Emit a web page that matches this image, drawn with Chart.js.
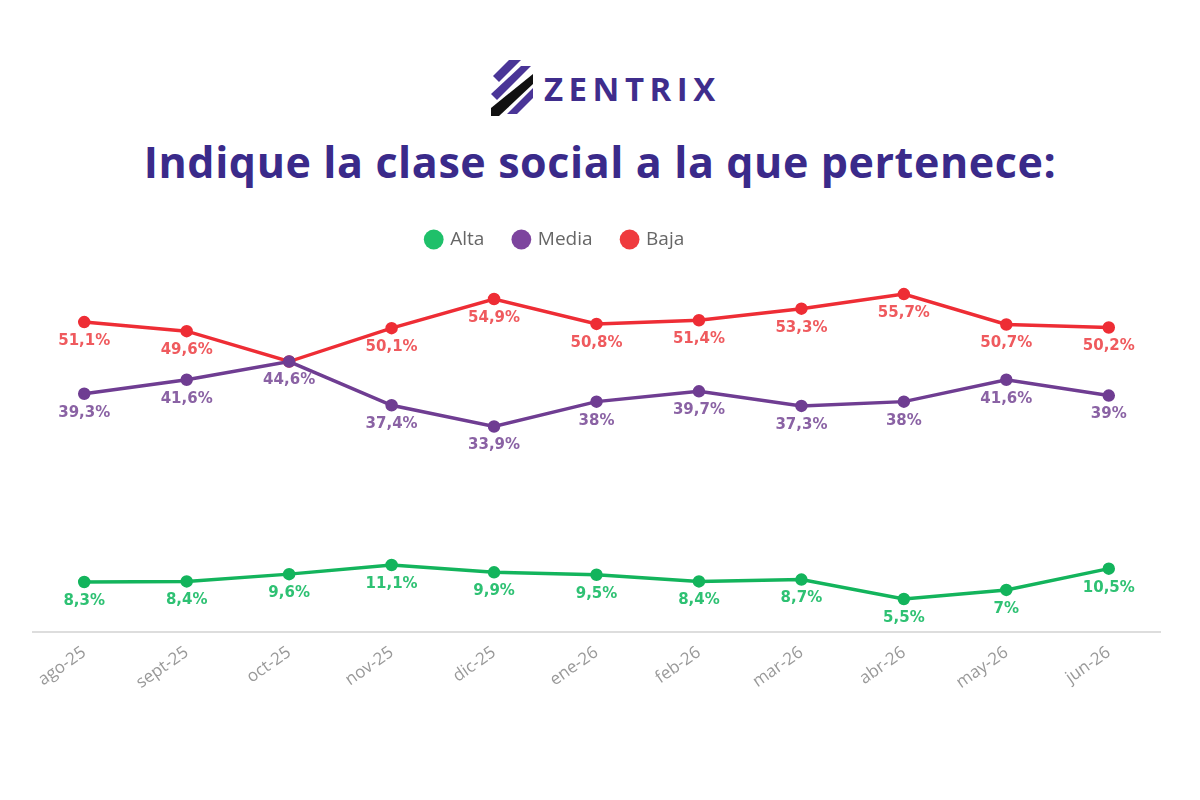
<!DOCTYPE html>
<html>
<head>
<meta charset="utf-8">
<script src="https://cdn.jsdelivr.net/npm/chart.js@4.4.1/dist/chart.umd.min.js"></script>
<style>
  html, body { margin: 0; padding: 0; background: #ffffff; }
  body { width: 1200px; height: 800px; position: relative; overflow: hidden; }
  #logo { position: absolute; left: 487px; top: 58px; height: 60px; display: flex; align-items: center; }
  #logo span { font-family: "Open Sans", sans-serif; font-weight: 700; font-size: 33px; color: #3f2d8c; letter-spacing: 5.5px; margin-left: 7px; }
  #title { position: absolute; left: 0; width: 1200px; top: 132px; text-align: center; font-family: "Open Sans", sans-serif; font-weight: 700; font-size: 43px; letter-spacing: 0.6px; color: #3a2a8a; }
  #wrap { position: absolute; left: 0; top: 0; width: 1200px; height: 800px; }
</style>
</head>
<body>
<div id="logo">
  <svg width="50" height="60" viewBox="0 0 50 60">
    <polygon points="22,2 34,2 12,24 6,18" fill="#4a3597"/>
    <polygon points="34,8 44,8 10,42 4,36" fill="#4a3597"/>
    <polygon points="46,16 46,26 12,58 4,58 4,50" fill="#111111"/>
    <polygon points="46,30 46,40 30,56 20,56" fill="#4a3597"/>
  </svg>
  <span>ZENTRIX</span>
</div>
<div id="title">Indique la clase social a la que pertenece:</div>
<div id="wrap"><canvas id="c" width="1200" height="800"></canvas></div>
<script>
const categories = ["ago-25","sept-25","oct-25","nov-25","dic-25","ene-26","feb-26","mar-26","abr-26","may-26","jun-26"];
const alta  = [8.3, 8.4, 9.6, 11.1, 9.9, 9.5, 8.4, 8.7, 5.5, 7, 10.5];
const media = [39.3, 41.6, 44.6, 37.4, 33.9, 38, 39.7, 37.3, 38, 41.6, 39];
const baja  = [51.1, 49.6, 44.6, 50.1, 54.9, 50.8, 51.4, 53.3, 55.7, 50.7, 50.2];
const seriesNames = ["Alta", "Media", "Baja"];

const lineColors = ["#13b45c", "#6f3d92", "#ee2d35"];
const labelColors = ["#2ec173", "#8a62a4", "#ef5a5e"];
const legendColors = ["#1fc06a", "#7d449e", "#ef3a3e"];

function fmt(v) { return String(v).replace('.', ',') + '%'; }

const labelPlugin = {
  id: 'pointLabels',
  afterDatasetsDraw(chart) {
    const ctx = chart.ctx;
    const drawn = [];
    ctx.save();
    ctx.font = 'bold 15px "DejaVu Sans", sans-serif';
    ctx.textAlign = 'center';
    ctx.textBaseline = 'middle';
    chart.data.datasets.forEach((ds, di) => {
      const meta = chart.getDatasetMeta(di);
      meta.data.forEach((pt, i) => {
        const txt = fmt(ds.data[i]);
        const w = ctx.measureText(txt).width;
        const x = pt.x, y = pt.y + 19;
        const box = {l: x - w/2, r: x + w/2, t: y - 8, b: y + 8};
        const overlap = drawn.some(b => !(box.r < b.l || box.l > b.r || box.b < b.t || box.t > b.b));
        if (overlap) return;
        drawn.push(box);
        ctx.fillStyle = ds.labelColor;
        ctx.fillText(txt, x, y);
      });
    });
    ctx.restore();
  }
};

const legendTweak = {
  id: 'legendTweak',
  beforeInit(chart) {
    const orig = chart.legend.fit;
    chart.legend.fit = function () { orig.call(this); this.height += 9; };
  },
  afterLayout(chart) {
    chart.legend.left -= 41;
    chart.legend.right -= 41;
  }
};

const seriesData = [alta, media, baja];
const datasets = seriesNames.map((n, i) => ({
  label: n,
  data: seriesData[i],
  borderColor: lineColors[i],
  backgroundColor: legendColors[i],
  pointBackgroundColor: lineColors[i],
  pointBorderColor: lineColors[i],
  pointRadius: 4.5,
  borderWidth: 3.5,
  tension: 0,
  labelColor: labelColors[i]
}));

new Chart(document.getElementById('c'), {
  type: 'line',
  data: { labels: categories, datasets },
  options: {
    responsive: false,
    animation: false,
    layout: { padding: { top: 200, left: 33, right: 40, bottom: 104 } },
    plugins: {
      legend: {
        position: 'top',
        labels: {
          usePointStyle: true,
          pointStyle: 'circle',
          boxWidth: 14,
          boxHeight: 14,
          padding: 30,
          color: '#666666',
          font: { family: '"Open Sans", sans-serif', size: 19 },
          generateLabels(chart) {
            return chart.data.datasets.map((d, i) => ({
              text: d.label, fillStyle: legendColors[i], strokeStyle: legendColors[i],
              lineWidth: 0, pointStyle: 'circle', datasetIndex: i, fontColor: '#666666'
            }));
          }
        }
      },
      tooltip: { enabled: false }
    },
    scales: {
      x: {
        offset: true,
        grid: { display: false, drawTicks: true, tickLength: 7, tickColor: '#dddddd' },
        border: { display: true, color: '#dddddd', width: 2 },
        ticks: { color: '#999999', minRotation: 35, maxRotation: 35, font: { family: '"Open Sans", sans-serif', size: 17 } }
      },
      y: {
        display: false,
        min: 0,
        max: 60
      }
    }
  },
  plugins: [labelPlugin, legendTweak]
});
</script>
</body>
</html>
